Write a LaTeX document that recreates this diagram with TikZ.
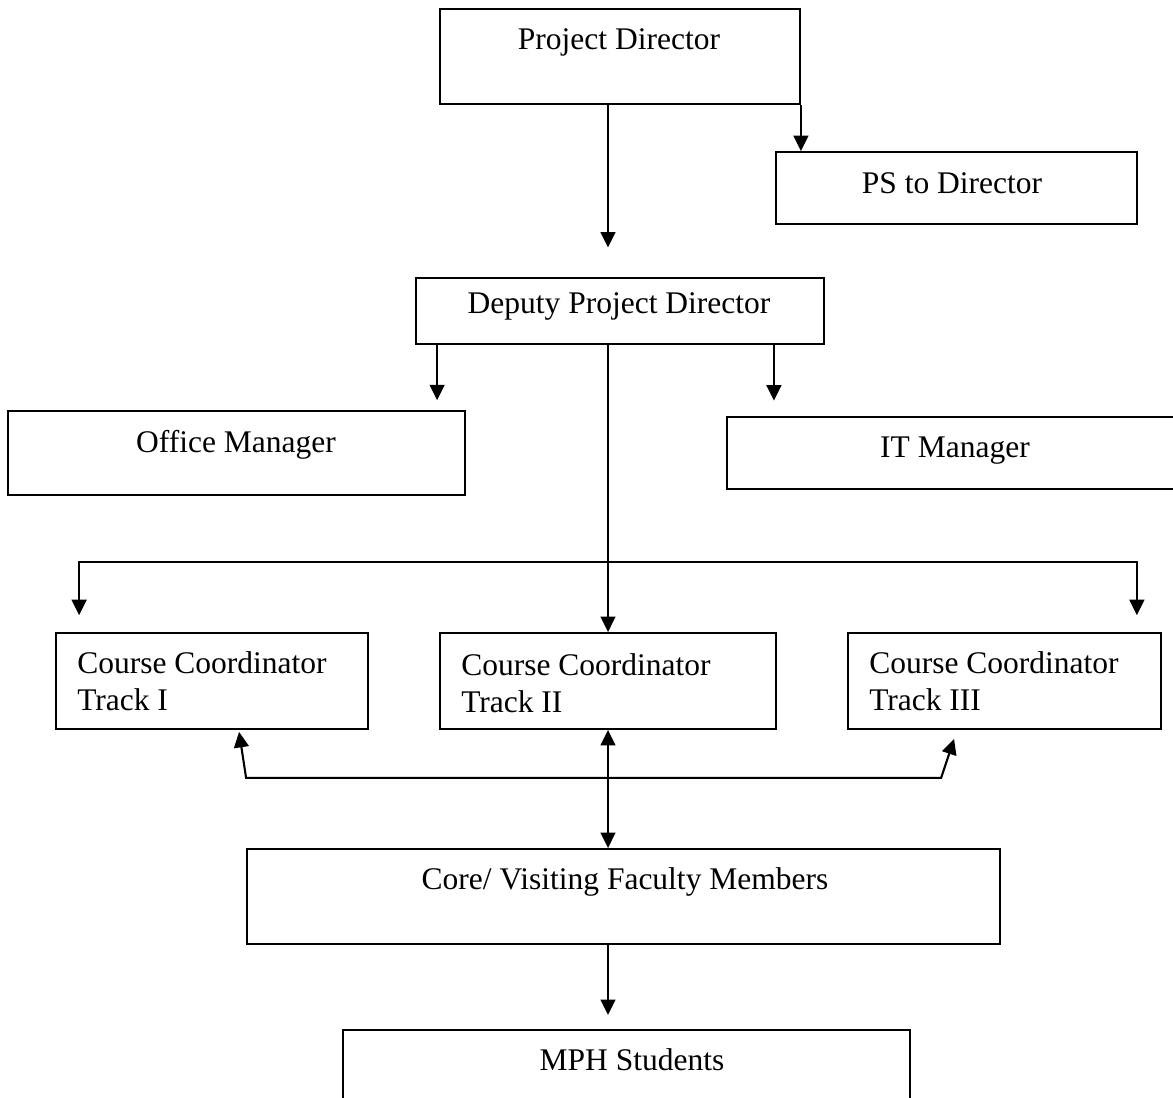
\documentclass[tikz,border=0pt]{standalone}
\usepackage{fontspec}
\setmainfont{Liberation Serif}
\usetikzlibrary{arrows.meta,calc,fit}

\tikzset{
  box/.style={draw,line width=1.3pt,inner sep=0pt},
  lbl/.style={inner sep=0pt,font=\fontsize{22.4pt}{26.3pt}\selectfont},
  arr/.style={line width=1.5pt,-{Triangle[length=11pt,width=10.5pt]}},
  dblarr/.style={line width=1.5pt,{Triangle[length=11pt,width=10.5pt]}-{Triangle[length=11pt,width=10.5pt]}},
}

\begin{document}
\begin{tikzpicture}[x=0.025cm,y=-0.025cm]
  \useasboundingbox (0,0) rectangle (1173,1098);
  % boxes
  \node[box,fit={(440,9)(800,104)}] (pd) {};
  \node[box,fit={(776,152)(1137,224)}] (ps) {};
  \node[box,fit={(416,278)(824,344)}] (dpd) {};
  \node[box,fit={(8,411)(465,495)}] (om) {};
  \node[box,fit={(727,417)(1190,489)}] (itm) {};
  \node[box,fit={(56,633)(368,729)}] (t1) {};
  \node[box,fit={(440,633)(776,729)}] (t2) {};
  \node[box,fit={(848,633)(1161,729)}] (t3) {};
  \node[box,fit={(247,849)(1000,944)}] (core) {};
  \node[box,fit={(343,1030)(910,1120)}] (mph) {};
  % texts
  \node[lbl,anchor=base] (pd-t) at (619,50) {Project Director};
  \node[lbl,anchor=base] (ps-t) at (952,193) {PS to Director};
  \node[lbl,anchor=base] (dpd-t) at (619,313) {Deputy Project Director};
  \node[lbl,anchor=base] (om-t) at (236,452) {Office Manager};
  \node[lbl,anchor=base] (itm-t) at (955,457) {IT Manager};
  \node[lbl,anchor=base west,align=left] (t1-t) at (77,710) {Course Coordinator\\Track I};
  \node[lbl,anchor=base west,align=left] (t2-t) at (461,712) {Course Coordinator\\Track II};
  \node[lbl,anchor=base west,align=left] (t3-t) at (869,710) {Course Coordinator\\Track III};
  \node[lbl,anchor=base] (core-t) at (625,889) {Core/ Visiting Faculty Members};
  \node[lbl,anchor=base] (mph-t) at (632,1070) {MPH Students};
  % connectors
  \draw[arr] (pd.south east) -- (pd.south east |- ps.north);
  \draw[arr,shorten >=21pt] (pd.south -| t2.north) -- (dpd.north -| t2.north);
  \coordinate (om-out) at ($(dpd.south west)+(22,0)$);
  \draw[arr,shorten >=7pt] (om-out) -- (om-out |- om.north);
  \coordinate (itm-out) at ($(dpd.south east)+(-51,0)$);
  \draw[arr,shorten >=11pt] (itm-out) -- (itm-out |- itm.north);
  \draw[arr] (dpd.south -| t2.north) -- (t2.north);
  \coordinate (split) at ($(dpd.south -| t2.north)+(0,217)$);
  \coordinate (t1-in) at ($(t1.north west)+(24,0)$);
  \coordinate (t3-in) at ($(t3.north east)+(-25,0)$);
  \draw[arr,shorten >=12pt] (split) -| (t1-in);
  \draw[arr,shorten >=12pt] (split) -| (t3-in);
  \coordinate (lj) at ($(t1.south west)+(191,48)$);
  \coordinate (rj) at ($(t3.south west)+(94,48)$);
  \draw[dblarr] ($(t1.south west)+(184,2)$) -- (lj) -- (rj) -- ($(t3.south west)+(107,9)$);
  \draw[dblarr] (t2.south) -- (core.north -| t2.south);
  \draw[arr,shorten >=10pt] (core.south -| t2.south) -- (mph.north -| t2.south);
\end{tikzpicture}
\end{document}
